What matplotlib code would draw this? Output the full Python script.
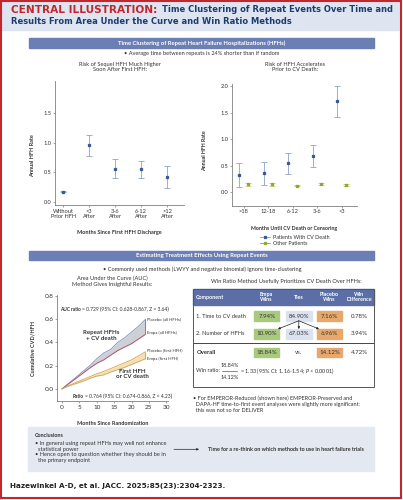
import numpy as np
import matplotlib.pyplot as plt
from matplotlib.patches import Rectangle
from matplotlib.lines import Line2D

plt.rcParams['font.family'] = ['Lato', 'DejaVu Sans']
plt.rcParams['mathtext.fontset'] = 'custom'
plt.rcParams['mathtext.rm'] = 'Lato'
plt.rcParams['mathtext.it'] = 'Lato:italic'

# --- data: rate after first HFH ---
first_cats = ["Without\nPrior HFH", "<3\nAfter", "3-6\nAfter", "6-12\nAfter", ">12\nAfter"]
first_rate = [0.17, 0.96, 0.56, 0.55, 0.42]
first_lo = [0.16, 0.78, 0.40, 0.41, 0.24]
first_hi = [0.18, 1.14, 0.72, 0.69, 0.60]

# --- data: rate before CV death ---
death_cats = [">18", "12-18", "6-12", "3-6", "<3"]
cvd_rate = [0.33, 0.36, 0.55, 0.69, 1.72]
cvd_lo = [0.11, 0.14, 0.35, 0.48, 1.43]
cvd_hi = [0.55, 0.58, 0.75, 0.90, 2.01]
other_rate = [0.15, 0.15, 0.13, 0.16, 0.14]
other_lo = [0.12, 0.13, 0.12, 0.14, 0.12]
other_hi = [0.18, 0.17, 0.14, 0.18, 0.16]

# --- data: cumulative CVD/HFH curves ---
auc_months = [0, 2, 4, 6, 8, 10, 12, 14, 16, 18, 20, 22, 24]
placebo_all = [0, 0.05, 0.10, 0.15, 0.20, 0.26, 0.31, 0.34, 0.40, 0.44, 0.49, 0.54, 0.60]
empa_all = [0, 0.045, 0.09, 0.135, 0.18, 0.22, 0.25, 0.29, 0.33, 0.36, 0.39, 0.43, 0.47]
placebo_first = [0, 0.03, 0.055, 0.08, 0.105, 0.13, 0.15, 0.175, 0.20, 0.225, 0.25, 0.285, 0.32]
empa_first = [0, 0.025, 0.045, 0.065, 0.09, 0.11, 0.12, 0.145, 0.165, 0.185, 0.21, 0.235, 0.26]

# --- data: win ratio table ---
wr_components = ["1. Time to CV death", "2. Number of HFHs"]
wr_empa = ["7.94%", "10.90%"]
wr_ties = ["84.90%", "67.03%"]
wr_placebo = ["7.16%", "6.96%"]
wr_diff = ["0.78%", "3.94%"]
overall_empa, overall_placebo, overall_diff = "18.84%", "14.12%", "4.72%"

RED = '#c1272d'
NAVY = '#1d3c72'
BAR = '#6b7fb4'
TXT = '#333333'
SPINE = '#7f7f7f'
BLUE_ERR = '#8ea2c8'
BLUE_PT = '#3b5797'
GREEN_ERR = '#cfc86a'
GREEN_PT = '#8aa83a'

W, H = 403, 500
fig = plt.figure(figsize=(W / 100, H / 100), dpi=100)
bg = fig.add_axes([0, 0, 1, 1])
bg.set_xlim(0, W)
bg.set_ylim(H, 0)
bg.axis('off')
renderer = fig.canvas.get_renderer()


def px_axes(x0, y0, x1, y1):
    a = fig.add_axes([x0 / W, 1 - y1 / H, (x1 - x0) / W, (y1 - y0) / H])
    a.set_facecolor('none')
    return a


def fit(t, width):
    w = t.get_window_extent(renderer).width
    t.set_fontsize(t.get_fontsize() * width / w)


def after(t, s, gap=1.2, **kw):
    # put a second text right after the end of t on the same line
    x1 = t.get_window_extent(renderer).x1
    return bg.text(x1 + gap, t.get_position()[1], s, **kw)


def style(a, size=4.0):
    for s in ['top', 'right']:
        a.spines[s].set_visible(False)
    for s in ['left', 'bottom']:
        a.spines[s].set_color(SPINE)
        a.spines[s].set_linewidth(0.6)
    a.tick_params(labelsize=size, length=1.5, width=0.5, pad=1.2, colors=SPINE, labelcolor=TXT)


# header and frame
bg.add_patch(Rectangle((2, 0), 398, 30, color='#dfe5f0', zorder=0))
bg.add_patch(Rectangle((1.2, 0.6), 400, 497, fill=False, ec=RED, lw=1.5, zorder=5))
t = bg.text(11, 10, "CENTRAL ILLUSTRATION:", color=RED, fontsize=7, fontweight='bold',
            family='DejaVu Sans', va='center')
fit(t, 146)
t = bg.text(162, 10, "Time Clustering of Repeat Events Over Time and", color=NAVY, fontsize=6,
            fontweight='bold', family='DejaVu Sans', va='center')
fit(t, 231)
t = bg.text(11, 22, "Results From Area Under the Curve and Win Ratio Methods", color=NAVY, fontsize=6,
            fontweight='bold', family='DejaVu Sans', va='center')
fit(t, 284)

# section bars
for y0, y1, label in [(38, 48, "Time Clustering of Repeat Heart Failure Hospitalizations (HFHs)"),
                      (251, 260, "Estimating Treatment Effects Using Repeat Events")]:
    bg.add_patch(Rectangle((29, y0), 345, y1 - y0, color=BAR, zorder=1))
    bg.text(201.5, (y0 + y1) / 2, label, color='white', fontsize=4.2, fontweight='bold',
            ha='center', va='center', zorder=2)

fs = 4.1
bg.text(202, 54, "• Average time between repeats is 24% shorter than if random", fontsize=fs,
        color=TXT, ha='center', va='center')
bg.text(120, 67, "Risk of Sequel HFH Much Higher\nSoon After First HFH:", fontsize=fs, color=TXT,
        ha='center', va='center', linespacing=1.1)
bg.text(295, 67, "Risk of HFH Accelerates\nPrior to CV Death:", fontsize=fs, color=TXT,
        ha='center', va='center', linespacing=1.1)

# left chart: after first HFH
ax1 = px_axes(55, 81, 184, 205)
x = np.arange(len(first_cats))
ax1.errorbar(x, first_rate,
             yerr=[np.array(first_rate) - first_lo, np.array(first_hi) - first_rate],
             fmt='s', ms=1.4, color=BLUE_PT, ecolor=BLUE_ERR, elinewidth=0.6, capsize=2.2,
             capthick=0.6)
ax1.set_xlim(-0.31, 4.65)
ax1.set_ylim(-0.056, 2.05)
ax1.set_yticks([0, 0.5, 1.0, 1.5])
ax1.set_yticklabels(["0.0", "0.5", "1.0", "1.5"])
ax1.set_xticks(x)
ax1.set_xticklabels(first_cats, linespacing=1.15)
style(ax1, 4.1)
ax1.set_xlabel("Months Since First HFH Discharge", fontsize=4.0, fontweight='bold', color=TXT)
ax1.xaxis.set_label_coords(0.5, -0.2)
ax1.set_ylabel("Annual HFH Rate", fontsize=4.0, fontweight='bold', color=TXT)
ax1.yaxis.set_label_coords(-0.155, 0.4)

# right chart: before CV death
ax2 = px_axes(232, 83.6, 357, 205.7)
x = np.arange(len(death_cats))
ax2.errorbar(x - 0.17, cvd_rate,
             yerr=[np.array(cvd_rate) - cvd_lo, np.array(cvd_hi) - cvd_rate],
             fmt='s', ms=1.4, color=BLUE_PT, ecolor=BLUE_ERR, elinewidth=0.6, capsize=2.2,
             capthick=0.6)
ax2.errorbar(x + 0.17, other_rate,
             yerr=[np.array(other_rate) - other_lo, np.array(other_hi) - other_rate],
             fmt='s', ms=1.4, color=GREEN_PT, ecolor=GREEN_ERR, elinewidth=0.6, capsize=2.2,
             capthick=0.6)
ax2.set_xlim(-0.47, 4.63)
ax2.set_ylim(-0.25, 2.05)
ax2.set_yticks([0, 0.5, 1.0, 1.5, 2.0])
ax2.set_yticklabels(["0.0", "0.5", "1.0", "1.5", "2.0"])
ax2.set_xticks(x)
ax2.set_xticklabels(death_cats)
style(ax2, 4.1)
ax2.set_xlabel("Months Until CV Death or Censoring", fontsize=3.8, fontweight='bold', color=TXT)
ax2.xaxis.set_label_coords(0.5, -0.165)
ax2.set_ylabel("Annual HFH Rate", fontsize=3.8, fontweight='bold', color=TXT)
ax2.yaxis.set_label_coords(-0.2, 0.45)
handles = [Line2D([], [], color=BLUE_ERR, lw=0.6, marker='s', ms=1.4, mfc=BLUE_PT, mec=BLUE_PT),
           Line2D([], [], color=GREEN_PT, lw=0.6, marker='s', ms=1.4, mfc=GREEN_PT, mec=GREEN_PT)]
fig.legend(handles, ["Patients With CV Death", "Other Patients"], loc='upper left',
           bbox_to_anchor=(257 / W, 1 - 232 / H), frameon=False, fontsize=3.9,
           handlelength=1.9, handletextpad=0.5, labelspacing=0.3, borderpad=0, labelcolor=TXT)

# middle section texts
bg.text(202.5, 269, "• Commonly used methods (LWYY and negative binomial) ignore time-clustering",
        fontsize=fs, color=TXT, ha='center', va='center')
bg.text(112, 281.3, "Area Under the Curve (AUC)\nMethod Gives Insightful Results:", fontsize=fs,
        color=TXT, ha='center', va='center', linespacing=1.1)
bg.text(286, 281.7, "Win Ratio Method Usefully Prioritizes CV Death Over HFHs:", fontsize=fs,
        color=TXT, ha='center', va='center')

# AUC chart
ax3 = px_axes(57.3, 295, 168, 401)
ax3.fill_between(auc_months, empa_all, placebo_all, color='#cdd0d6', lw=0)
ax3.fill_between(auc_months, empa_first, placebo_first, color='#f6e0b0', lw=0)
ax3.plot(auc_months, placebo_all, color='#7d8fb8', lw=0.6)
ax3.plot(auc_months, empa_all, color='#b04a5e', lw=0.6)
ax3.plot(auc_months, placebo_first, color='#d9a24e', lw=0.6)
ax3.plot(auc_months, empa_first, color='#c8a86a', lw=0.6)
ax3.vlines(auc_months[-1], empa_all[-1], placebo_all[-1], color='#777777', lw=0.6)
ax3.vlines(auc_months[-1], empa_first[-1], placebo_first[-1], color='#c8a060', lw=0.6)
ax3.set_xlim(-1.35, 30.5)
ax3.set_ylim(-0.105, 0.81)
ax3.set_xticks(range(0, 31, 5))
ax3.set_yticks([0, 0.2, 0.4, 0.6, 0.8])
ax3.set_yticklabels(["0.0", "0.2", "0.4", "0.6", "0.8"])
style(ax3, 4.6)
ax3.set_xlabel("Months Since Randomization", fontsize=4.0, fontweight='bold', color=TXT)
ax3.xaxis.set_label_coords(0.5, -0.19)
ax3.set_ylabel("Cumulative CVD/HFH", fontsize=4.0, fontweight='bold', color=TXT)
ax3.yaxis.set_label_coords(-0.2, 0.5)
lab = dict(fontsize=3.1, color=TXT, va='center')
ax3.text(auc_months[-1] + 0.6, placebo_all[-1], "Placebo (all HFHs)", **lab)
ax3.text(auc_months[-1] + 0.6, empa_all[-1] + 0.015, "Empa (all HFHs)", **lab)
ax3.text(auc_months[-1] + 0.6, placebo_first[-1] + 0.01, "Placebo (first HFH)", **lab)
ax3.text(auc_months[-1] + 0.6, empa_first[-1], "Empa (first HFH)", **lab)
ax3.text(11.2, 0.46, "Repeat HFHs\n+ CV death", fontsize=4.4, fontweight='bold', color=TXT,
         ha='center', va='center', linespacing=1.05)
ax3.text(20.3, 0.125, "First HFH\nor CV death", fontsize=4.4, fontweight='bold', color=TXT,
         ha='center', va='center', linespacing=1.05)
t = bg.text(60, 309.5, "AUC ratio", fontsize=3.4, fontweight='bold', color=TXT, va='center')
after(t, "= 0.729 (95% CI: 0.628-0.867, Z = 3.64)", fontsize=3.6, color=TXT, va='center')
t = bg.text(72.7, 396.7, "Ratio", fontsize=3.4, fontweight='bold', color=TXT, va='center')
after(t, "= 0.764 (95% CI: 0.674-0.866, Z = 4.23)", fontsize=3.6, color=TXT, va='center')

# win ratio table
bg.add_patch(Rectangle((193, 289.3), 181, 15.7, color='#5b6fa6', zorder=1))
bg.add_patch(Rectangle((193, 289.3), 181, 97.4, fill=False, ec='#555555', lw=0.7, zorder=3))
bg.plot([193, 374], [342.7, 342.7], color='#444444', lw=0.7)
hd = dict(color='white', fontsize=3.9, fontweight='bold', va='center', ha='center',
          linespacing=1.05, zorder=2)
bg.text(196, 297.5, "Component", **{**hd, 'ha': 'left'})
bg.text(266.7, 297.2, "Empa\nWins", **hd)
bg.text(298.8, 297.2, "Ties", **hd)
bg.text(329.5, 297.2, "Placebo\nWins", **hd)
bg.text(359.3, 297.2, "Win\nDifference", **hd)

cols = [(266.7, 25, '#a9c97d'), (298.8, 26, '#dce2ef'), (329.5, 24.5, '#e8a86c')]
cell = dict(fontsize=4.4, color=TXT, ha='center', va='center', zorder=3)
for i, ry in enumerate([316, 333.8]):
    bg.text(196.5, ry, wr_components[i], fontsize=4.1, color=TXT, va='center')
    for (cx, w, c), s in zip(cols, [wr_empa[i], wr_ties[i], wr_placebo[i]]):
        bg.add_patch(Rectangle((cx - w / 2, ry - 4.7), w, 9.4, color=c, zorder=2))
        bg.text(cx, ry, s, **cell)
    bg.text(359.3, ry, wr_diff[i], **cell)
ry = 352.2
bg.text(196.5, ry, "Overall", fontsize=4.2, fontweight='bold', color=TXT, va='center')
for (cx, w, c), s in zip([cols[0], cols[2]], [overall_empa, overall_placebo]):
    bg.add_patch(Rectangle((cx - w / 2, ry - 4.7), w, 9.4, color=c, zorder=2))
    bg.text(cx, ry, s, **cell)
bg.text(298.8, ry, "vs.", **cell)
bg.text(359.3, ry, overall_diff, **cell)
for tx in [278, 298.8, 319]:
    bg.annotate("", xy=(tx, 329), xytext=(298.8, 320.8),
                arrowprops=dict(arrowstyle='-|>', lw=0.5, color='#222222', mutation_scale=3,
                                shrinkA=0, shrinkB=0))
bg.text(196.5, 371, "Win ratio:", fontsize=4.0, color=TXT, va='center')
bg.text(229.5, 365.2, overall_empa, fontsize=4.0, color=TXT, ha='center', va='center')
bg.plot([222, 237], [371, 371], color=TXT, lw=0.4)
bg.text(229.5, 377.3, overall_placebo, fontsize=4.0, color=TXT, ha='center', va='center')
bg.text(240.5, 371, r"= 1.33 (95% CI: 1.16-1.54; $\it{P}$ < 0.0001)", fontsize=4.0, color=TXT,
        va='center')

bg.text(193, 404.5, "• For EMPEROR-Reduced (shown here) EMPEROR-Preserved and\n"
        "  DAPA-HF time-to-first event analyses were slightly more significant:\n"
        "  this was not so for DELIVER", fontsize=4.0, color=TXT, va='center', linespacing=1.2)

# conclusions
bg.add_patch(Rectangle((28, 427.3), 346, 43.4, color='#e3e8f1', zorder=1))
bg.text(35, 435.7, "Conclusions", fontsize=3.9, fontweight='bold', color=TXT, va='center', zorder=2)
bg.text(35, 452, "• In general using repeat HFHs may well not enhance\n  statistical power\n"
        "• Hence open to question whether they should be in\n  the primary endpoint",
        fontsize=4.1, color=TXT, va='center', linespacing=1.12, zorder=2)
bg.annotate("", xy=(199, 449.3), xytext=(174, 449.3), zorder=2,
            arrowprops=dict(arrowstyle='-|>', lw=0.5, color='#222222', mutation_scale=3,
                            shrinkA=0, shrinkB=0))
t = bg.text(208, 449.3, "Time for a re-think on which methods to use in heart failure trials",
            fontsize=4.5, fontweight='bold', color=TXT, va='center', zorder=2)
fit(t, 155)

t = bg.text(10, 486, "Hazewinkel A-D, et al. JACC. 2025;85(23):2304-2323.", fontsize=6,
            fontweight='bold', family='DejaVu Sans', color='#222222', va='center')
fit(t, 218)

fig.savefig("out.png", dpi=100)
